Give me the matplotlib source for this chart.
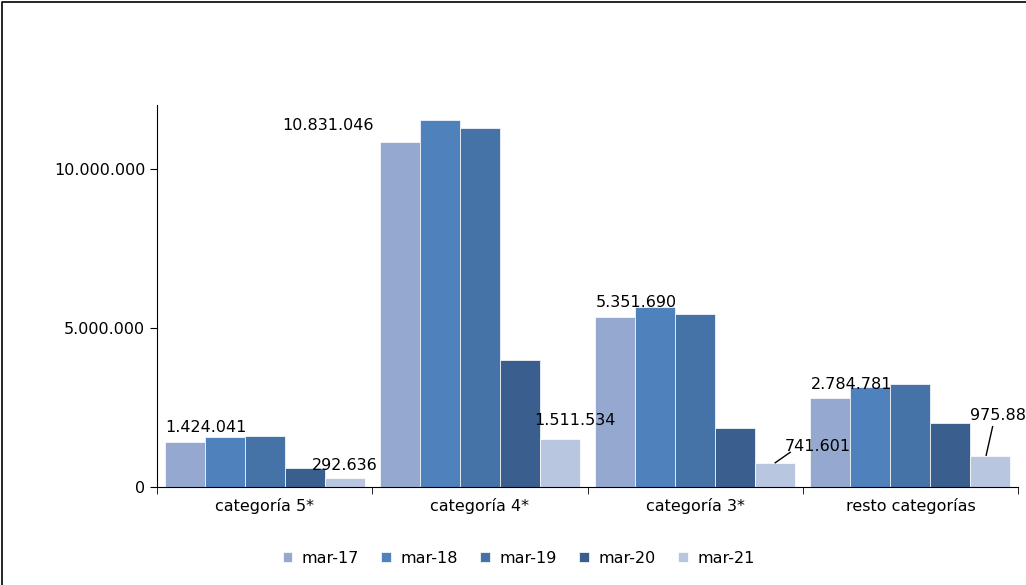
import matplotlib.pyplot as plt
import numpy as np
from matplotlib.ticker import FuncFormatter

categorias = ["categoría 5*", "categoría 4*", "categoría 3*", "resto categorías"]
series = ["mar-17", "mar-18", "mar-19", "mar-20", "mar-21"]
valores = {
    "mar-17": [1424041, 10831046, 5351690, 2784781],
    "mar-18": [1570000, 11540000, 5670000, 3130000],
    "mar-19": [1600000, 11290000, 5420000, 3230000],
    "mar-20": [600000, 3980000, 1850000, 2000000],
    "mar-21": [292636, 1511534, 741601, 975885],
}
colores = ["#95A9D0", "#4F81BD", "#4573A8", "#3A5F8F", "#B9C6E0"]

fig = plt.figure(figsize=(10.26, 5.85), dpi=100)
ax = fig.add_axes([157/1026, 1-487/585, (1018-157)/1026, (487-105)/585])
# marco de la figura (solo arriba e izquierda visibles)
fig.add_artist(plt.Line2D([0.002, 0.002, 1], [0, 0.997, 0.997], transform=fig.transFigure,
                          color="black", lw=1.2))

x = np.arange(len(categorias))
w = 0.186
for i, s in enumerate(series):
    ax.bar(x + (i - 2) * w, valores[s], w, color=colores[i], label=s,
           edgecolor="white", linewidth=0.5)

fmt = lambda v: f"{v:,.0f}".replace(",", ".")
fs = 11.5
# etiquetas mar-17
for j, v in enumerate(valores["mar-17"]):
    xb = x[j] - 2 * w
    if j == 1:
        ax.text(xb - 0.12, v + 300000, fmt(v), ha="right", va="bottom", fontsize=fs)
    else:
        ax.text(xb + 0.1, v + 200000, fmt(v), ha="center", va="bottom", fontsize=fs)
# etiquetas mar-21
for j, v in enumerate(valores["mar-21"]):
    xb = x[j] + 2 * w
    if j == 0:
        ax.text(xb, v + 150000, fmt(v), ha="center", va="bottom", fontsize=fs)
    elif j == 1:
        ax.text(xb + 0.07, v + 350000, fmt(v), ha="center", va="bottom", fontsize=fs)
    elif j == 2:
        ax.plot([xb, xb + 0.07], [v + 20000, v + 350000], color="black", lw=1)
        ax.text(xb + 0.2, v + 300000, fmt(v), ha="center", va="bottom", fontsize=fs)
    else:
        ax.plot([xb - 0.02, xb + 0.01], [v + 20000, v + 920000], color="black", lw=1)
        ax.text(xb + 0.06, v + 1050000, fmt(v), ha="center", va="bottom", fontsize=fs,
                clip_on=False)

ax.set_xlim(-0.5, 3.5)
ax.set_ylim(0, 12000000)
ax.set_yticks([0, 5000000, 10000000])
ax.yaxis.set_major_formatter(FuncFormatter(lambda v, p: fmt(v)))
ax.set_xticks(x)
ax.set_xticklabels(categorias, fontsize=fs)
ax.set_xticks([-0.5, 0.5, 1.5, 2.5, 3.5], minor=True)
ax.tick_params(axis="x", which="major", length=0, pad=8)
ax.tick_params(axis="x", which="minor", length=5)
ax.tick_params(axis="y", labelsize=fs, length=5)
for s in ["top", "right"]:
    ax.spines[s].set_visible(False)
ax.legend(loc="upper center", bbox_to_anchor=(0.42, -0.13), ncol=5, frameon=False,
          fontsize=fs, handlelength=0.6, handleheight=0.6, columnspacing=1.4, handletextpad=0.6)
fig.savefig("out.png")
